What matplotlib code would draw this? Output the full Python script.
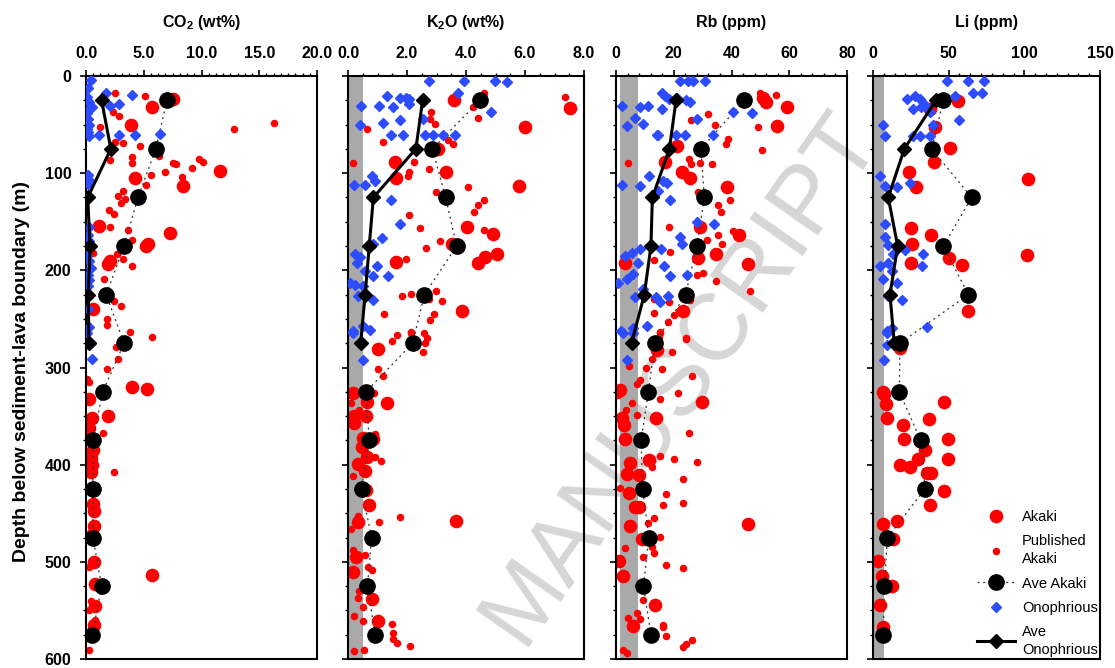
import matplotlib
matplotlib.use("Agg")
import matplotlib.pyplot as plt
from matplotlib.lines import Line2D
from matplotlib.ticker import MultipleLocator, FormatStrFormatter

plt.rcParams['font.family'] = ['Liberation Sans', 'DejaVu Sans']
plt.rcParams['mathtext.fontset'] = 'custom'
plt.rcParams['mathtext.rm'] = 'Liberation Sans'
plt.rcParams['mathtext.bf'] = 'Liberation Sans:bold'

# depths of the averaged intervals (m)
ave_akaki_depth = [25, 75, 125, 175, 225, 275, 325, 375, 425, 475, 525, 575]
ave_ono_depth = [25, 75, 125, 175, 225, 275]

# ---------------- CO2 (wt%) ----------------
co2_akaki_depth = [24, 32, 50, 98, 105, 113, 154, 162, 173, 175, 190, 193, 240, 320, 322, 332, 350, 352, 362,
                   385, 393, 400, 408, 440, 448, 463, 472, 500, 514, 523, 545, 565]
co2_akaki = [7.5, 5.7, 3.9, 11.6, 4.2, 8.4, 1.1, 7.3, 5.4, 5.2, 2.1, 1.9, 0.6, 4.0, 5.3, 0.3, 1.9, 0.5, 0.3,
             0.6, 0.4, 0.5, 0.4, 0.6, 0.7, 0.7, 0.5, 0.7, 5.7, 0.8, 0.8, 0.7]
co2_pub_depth = [18, 21, 25, 48, 55, 52, 41, 37, 68, 69, 72, 86, 83, 90, 82, 90, 91, 85, 89, 95, 99, 102, 112,
                 104, 118, 127, 123, 131, 138, 142, 155, 158, 169, 182, 183, 188, 196, 209, 232, 237, 250, 256,
                 263, 269, 279, 291, 302, 315, 312, 367, 408, 400, 505, 540, 550, 560, 591]
co2_pub = [2.5, 5.1, 7.2, 16.3, 12.8, 1.2, 2.9, 2.3, 2.5, 3.2, 4.7, 2.1, 4.0, 4.0, 6.3, 7.5, 7.8, 9.8, 10.1, 9.2,
           6.8, 5.6, 5.2, 8.3, 3.2, 3.4, 2.8, 3.0, 2.0, 2.4, 2.1, 3.6, 4.0, 0.6, 2.7, 3.2, 4.0, 1.6, 2.4, 3.0,
           1.8, 1.8, 3.8, 5.7, 2.6, 2.8, 1.8, 0.3, 0.1, 1.5, 2.4, 0.2, 0.3, 0.4, 0.3, 0.8, 0.3]
co2_ono_depth = [4, 12, 17, 20, 22, 27, 29, 31, 32, 35, 38, 44, 50, 55, 58, 61, 61, 61, 60, 62, 102, 107, 111,
                 155, 164, 170, 178, 185, 190, 198, 205, 210, 216, 225, 240, 258, 265, 275, 291]
co2_ono = [0.4, 0.2, 1.7, 4.0, 0.1, 0.3, 2.9, 2.1, 0.5, 0.2, 0.1, 0.2, 0.3, 0.1, 0.2, 1.1, 2.9, 4.2, 6.4, 0.3,
           0.2, 0.3, 0.2, 0.3, 0.2, 0.3, 0.2, 0.1, 0.3, 0.4, 0.2, 0.3, 0.2, 0.3, 0.2, 0.3, 0.1, 0.4, 0.5]
co2_ave_akaki = [7.0, 6.05, 4.5, 3.3, 1.75, 3.3, 1.45, 0.6, 0.6, 0.6, 1.35, 0.55]
co2_ave_ono = [1.35, 2.15, 0.15, 0.35, 0.2, 0.25]

# ---------------- K2O (wt%) ----------------
k2o_akaki_depth = [25, 33, 53, 75, 88, 105, 99, 113, 155, 163, 173, 186, 183, 192, 191, 242, 281, 326, 337, 336,
                   350, 357, 350, 373, 374, 382, 392, 399, 407, 426, 441, 458, 459, 495, 510, 538, 561]
k2o_akaki = [3.6, 7.53, 6.0, 3.06, 1.6, 1.62, 3.32, 5.8, 4.02, 4.9, 3.52, 4.65, 5.06, 4.4, 1.62, 3.85, 1.03,
             0.16, 1.33, 0.63, 0.19, 0.2, 0.61, 0.52, 0.86, 0.46, 0.63, 0.35, 0.57, 0.61, 0.72, 3.65, 0.35,
             0.27, 0.18, 0.8, 1.03]
k2o_pub_depth = [18, 32, 43, 22, 37, 44, 49, 55, 68, 70, 66, 90, 88, 99, 103, 96, 114, 119, 128, 133, 140, 143,
                 156, 159, 170, 177, 188, 226, 224, 221, 230, 232, 245, 245, 251, 263, 267, 273, 264, 265, 270,
                 275, 284, 302, 309, 326, 337, 344, 368, 392, 396, 412, 453, 459, 454, 466, 488, 493, 505, 508,
                 530, 537, 546, 556, 561, 564, 573, 579, 584, 587, 592, 591]
k2o_pub = [4.61, 4.23, 4.4, 7.36, 2.83, 2.78, 2.95, 0.63, 1.18, 3.57, 3.4, 0.18, 2.24, 2.08, 2.05, 2.73, 4.08,
           2.99, 4.62, 4.42, 4.28, 2.07, 2.44, 4.62, 3.12, 2.63, 1.97, 1.82, 2.14, 2.98, 2.74, 3.17, 1.22,
           2.92, 2.78, 2.14, 1.65, 1.5, 2.14, 2.58, 2.67, 2.6, 2.53, 1.0, 1.2, 0.88, 0.09, 0.37, 0.9, 0.91,
           1.12, 0.18, 0.35, 1.05, 1.76, 0.1, 0.18, 0.57, 0.69, 0.8, 0.38, 0.33, 0.52, 0.2, 0.5, 1.48, 1.54,
           1.51, 1.65, 2.1, 0.21, 0.55]
k2o_ono_depth = [5, 5, 5, 6, 18, 21, 23, 23, 24, 31, 31, 32, 29, 44, 37, 45, 50, 48, 61, 61, 61, 61, 61, 61, 103,
                 112, 112, 108, 128, 152, 167, 173, 183, 186, 192, 196, 206, 206, 201, 213, 215, 216, 231, 226,
                 262, 257, 261, 264, 292]
k2o_ono = [2.75, 3.94, 4.98, 5.4, 3.74, 1.33, 1.76, 1.98, 2.08, 0.43, 1.06, 1.53, 2.08, 2.55, 4.84, 1.76, 0.41,
           1.2, 1.46, 1.88, 2.61, 2.89, 3.23, 3.63, 0.8, 0.2, 0.57, 0.92, 1.46, 1.76, 1.14, 0.86, 0.24, 0.41,
           0.3, 0.97, 0.86, 1.34, 0.57, 0.07, 0.24, 0.52, 0.86, 0.35, 0.16, 0.52, 0.75, 0.16, 0.52]
k2o_ave_akaki = [4.47, 2.86, 3.31, 3.68, 2.59, 2.19, 0.61, 0.72, 0.46, 0.80, 0.66, 0.92]
k2o_ave_ono = [2.53, 2.3, 0.86, 0.72, 0.58, 0.43]

# ---------------- Rb (ppm) ----------------
rb_akaki_depth = [23, 27, 32, 51, 72, 88, 99, 105, 114, 155, 164, 183, 187, 193, 192, 242, 282, 323, 325, 335,
                  352, 352, 359, 374, 395, 398, 410, 411, 429, 444, 444, 463, 461, 476, 499, 515, 544, 566]
rb_akaki = [51.0, 51.8, 59.1, 55.6, 21.1, 16.9, 22.7, 25.6, 38.3, 29.1, 42.7, 34.5, 28.4, 45.6, 3.1, 23.1, 14.3,
            1.4, 0.5, 29.7, 13.9, 2.0, 2.8, 3.1, 11.5, 4.9, 3.7, 8.1, 4.4, 6.6, 8.1, 4.9, 45.6, 8.9, 1.2, 2.5,
            13.5, 6.0]
rb_pub_depth = [17, 20, 29, 52, 76, 39, 50, 45, 65, 70, 85, 91, 90, 91, 90, 119, 128, 133, 140, 155, 160, 164,
                169, 173, 189, 181, 205, 203, 211, 221, 229, 233, 231, 246, 242, 244, 253, 263, 270, 271, 265,
                270, 284, 291, 300, 302, 298, 309, 313, 317, 326, 332, 337, 344, 349, 367, 391, 394, 397, 402,
                415, 430, 442, 439, 424, 455, 460, 474, 485, 491, 486, 495, 503, 506, 539, 553, 559, 558, 565,
                567, 576, 580, 585, 588, 591, 594]
rb_pub = [49.7, 55.4, 52.4, 49.3, 50.7, 32.0, 34.3, 25.9, 38.8, 38.1, 25.4, 25.9, 29.1, 33.4, 4.3, 28.3, 39.5,
          35.4, 36.2, 18.5, 40.4, 35.4, 31.6, 36.7, 13.3, 18.7, 27.9, 30.2, 34.5, 46.4, 13.0, 18.5, 25.7, 20.1,
          21.9, 13.0, 18.1, 15.4, 24.4, 24.2, 15.2, 15.0, 19.3, 12.3, 10.4, 15.8, 4.6, 26.2, 8.3, 7.2, 21.4,
          15.2, 5.4, 3.4, 7.4, 25.3, 15.2, 20.2, 28.2, 12.3, 23.3, 17.3, 16.4, 23.3, 1.4, 13.3, 11.2, 15.2,
          12.3, 13.3, 3.1, 9.2, 17.3, 23.3, 9.2, 7.2, 8.3, 4.3, 16.2, 16.4, 17.3, 26.2, 24.2, 23.3, 2.5, 3.7]
rb_ono_depth = [5, 5, 5, 5, 18, 21, 24, 23, 25, 27, 31, 32, 31, 34, 37, 38, 43, 51, 49, 44, 61, 61, 61, 61, 61,
                103, 112, 113, 108, 110, 118, 128, 150, 152, 166, 173, 185, 182, 178, 178, 192, 196, 206, 205,
                213, 209, 204, 219, 227, 227, 226, 233, 262, 259, 257, 292, 265, 265]
rb_ono = [22.3, 24.9, 26.7, 30.7, 15.8, 17.0, 18.5, 21.0, 24.4, 25.6, 2.2, 8.3, 11.0, 15.8, 40.6, 47.0, 6.6,
          3.7, 9.5, 27.9, 14.1, 14.7, 20.8, 23.9, 33.7, 11.6, 2.0, 8.3, 16.4, 17.5, 14.7, 18.7, 27.9, 34.0,
          22.2, 22.7, 3.1, 5.4, 8.3, 15.5, 7.7, 16.6, 18.7, 24.5, 0.8, 3.7, 6.0, 9.5, 6.6, 14.0, 18.0, 15.2,
          1.6, 6.0, 10.6, 3.7, 2.5, 6.0]
rb_ave_akaki = [44.4, 29.4, 30.6, 28.0, 24.1, 13.5, 11.2, 8.7, 9.2, 11.4, 9.5, 12.1]
rb_ave_ono = [20.8, 18.5, 12.6, 12.1, 9.8, 5.4]

# ---------------- Li (ppm) ----------------
li_akaki_depth = [26, 34, 52, 74, 89, 99, 114, 106, 156, 164, 173, 192, 187, 194, 184, 242, 280, 325, 327, 338,
                  336, 352, 359, 353, 374, 374, 394, 385, 394, 400, 402, 409, 409, 427, 442, 461, 458, 477, 499,
                  515, 525, 544, 567]
li_akaki = [56.3, 37.6, 41.0, 50.9, 40.5, 24.0, 28.4, 102.2, 25.1, 38.3, 25.5, 25.1, 50.4, 58.6, 101.6, 63.0,
            17.8, 6.8, 7.5, 8.4, 47.1, 9.0, 20.0, 37.0, 20.7, 49.3, 49.8, 34.3, 29.9, 17.8, 24.4, 35.4, 38.6,
            47.1, 37.6, 6.8, 15.6, 13.4, 3.5, 5.7, 12.3, 4.6, 6.8]
li_pub_depth = []
li_pub = []
li_ono_depth = [5, 5, 5, 18, 18, 21, 24, 21, 24, 30, 37, 32, 34, 45, 50, 62, 62, 62, 62, 50, 103, 113, 114, 110,
                152, 166, 174, 179, 183, 183, 192, 196, 196, 201, 213, 209, 231, 226, 258, 262, 259, 265, 277,
                292]
li_ono = [48.7, 62.6, 73.6, 66.4, 71.9, 54.5, 22.2, 27.6, 31.0, 34.3, 37.6, 31.7, 26.6, 56.8, 6.8, 7.9, 26.6,
          31.0, 37.6, 39.9, 4.6, 7.9, 15.6, 24.4, 7.9, 7.9, 10.1, 21.1, 33.2, 13.4, 9.7, 4.6, 32.1, 12.3, 15.6,
          6.8, 18.9, 10.1, 35.4, 9.0, 12.3, 9.0, 9.0, 7.5]
li_ave_akaki = [46.5, 38.8, 65.2, 46.5, 63.0, 17.8, 17.4, 31.5, 34.4, 9.5, 7.5, 6.8]
li_ave_ono = [41.6, 20.7, 10.1, 16.3, 11.2, 14.1]

titles = [r"CO$_\mathbf{2}$ (wt%)", r"K$_\mathbf{2}$O (wt%)", "Rb (ppm)", "Li (ppm)"]
xlims = [(0, 20), (0, 8), (0, 80), (0, 150)]
major_steps = [5, 2, 20, 50]
minor_steps = [0.625, 0.5, 4, 50 / 7]
formats = ["%.1f", "%.1f", "%d", "%d"]
bands = [None, (0, 0.5), (1.5, 7.6), (0, 7.2)]

RED = '#ff0000'
BLUE = '#2d4cff'

fig = plt.figure(figsize=(11.15, 6.68), dpi=100)

# watermark, drawn behind the (transparent) axes
fig.text(680 / 1115, (668 - 378) / 668, "MANUSCRIPT", fontsize=68, color='#d6d6d6', rotation=55,
         rotation_mode='anchor', ha='center', va='center', zorder=-1)

left_px = [86, 348, 616, 873]
width_px = [231, 236, 231, 227]
top_px, bot_px = 76, 659

panels = [
    (co2_akaki_depth, co2_akaki, co2_pub_depth, co2_pub, co2_ono_depth, co2_ono, co2_ave_akaki, co2_ave_ono),
    (k2o_akaki_depth, k2o_akaki, k2o_pub_depth, k2o_pub, k2o_ono_depth, k2o_ono, k2o_ave_akaki, k2o_ave_ono),
    (rb_akaki_depth, rb_akaki, rb_pub_depth, rb_pub, rb_ono_depth, rb_ono, rb_ave_akaki, rb_ave_ono),
    (li_akaki_depth, li_akaki, li_pub_depth, li_pub, li_ono_depth, li_ono, li_ave_akaki, li_ave_ono),
]

for i, (ad, av, pd, pv, od, ov, aa, ao) in enumerate(panels):
    ax = fig.add_axes([left_px[i] / 1115, (668 - bot_px) / 668, width_px[i] / 1115, (bot_px - top_px) / 668])
    ax.set_facecolor('none')

    if bands[i] is not None:
        ax.axvspan(bands[i][0], bands[i][1], color='#a9a9a9', lw=0, zorder=0.5)

    ax.plot(av, ad, ls='none', marker='o', ms=8.8, mfc=RED, mec=RED, zorder=2)
    ax.plot(pv, pd, ls='none', marker='o', ms=4.4, mfc=RED, mec=RED, zorder=2.1)
    ax.plot(aa, ave_akaki_depth, ls=(0, (1.6, 3)), lw=0.9, color='#333333', marker='o', ms=11,
            mfc='black', mec='black', zorder=3)
    ax.plot(ov, od, ls='none', marker='D', ms=5.2, mfc=BLUE, mec=BLUE, zorder=4)
    ax.plot(ao, ave_ono_depth, ls='-', lw=2.2, color='black', marker='D', ms=7,
            mfc='black', mec='black', zorder=5)

    ax.set_xlim(*xlims[i])
    ax.set_ylim(600, 0)
    ax.xaxis.tick_top()
    ax.xaxis.set_major_locator(MultipleLocator(major_steps[i]))
    ax.xaxis.set_minor_locator(MultipleLocator(minor_steps[i]))
    ax.xaxis.set_major_formatter(FormatStrFormatter(formats[i]))
    ax.yaxis.set_major_locator(MultipleLocator(100))
    ax.yaxis.set_minor_locator(MultipleLocator(25))
    ax.tick_params(which='major', direction='out', length=4.5, width=1.2, labelsize=11.5, pad=6)
    ax.tick_params(which='minor', direction='out', length=2.5, width=1.0)
    ax.tick_params(axis='y', which='both', right=False)
    ax.tick_params(axis='x', which='both', bottom=False)
    for lab in ax.get_xticklabels() + ax.get_yticklabels():
        lab.set_fontweight('bold')
    if i > 0:
        ax.tick_params(axis='y', which='both', labelleft=False)
    for sp in ax.spines.values():
        sp.set_linewidth(1.5)

    ax.text(0.5, 1 + 54 / (bot_px - top_px), titles[i], transform=ax.transAxes, ha='center', va='center',
            fontsize=11.5, fontweight='bold')

    if i == 3:
        handles = [
            Line2D([], [], ls='none', marker='o', ms=8.8, mfc=RED, mec=RED),
            Line2D([], [], ls='none', marker='o', ms=4.4, mfc=RED, mec=RED),
            Line2D([], [], ls=(0, (1.6, 3)), lw=0.9, color='#333333', marker='o', ms=11, mfc='black',
                   mec='black'),
            Line2D([], [], ls='none', marker='D', ms=5.2, mfc=BLUE, mec=BLUE),
            Line2D([], [], ls='-', lw=2.2, color='black', marker='D', ms=7, mfc='black', mec='black'),
        ]
        labels = ["Akaki", "Published\nAkaki", "Ave Akaki", "Onophrious", "Ave\nOnophrious"]
        leg = ax.legend(handles, labels, loc='lower right', frameon=False, fontsize=10.5, handlelength=2.6,
                        handletextpad=0.5, labelspacing=0.7, borderaxespad=0.0, borderpad=0.15)
        for t in leg.get_texts():
            t.set_linespacing(1.35)

fig.text(22 / 1115, (668 - 372) / 668, "Depth below sediment-lava boundary (m)", rotation=90,
         ha='center', va='center', fontsize=14, fontweight='bold')

fig.savefig("out.png", dpi=100)
